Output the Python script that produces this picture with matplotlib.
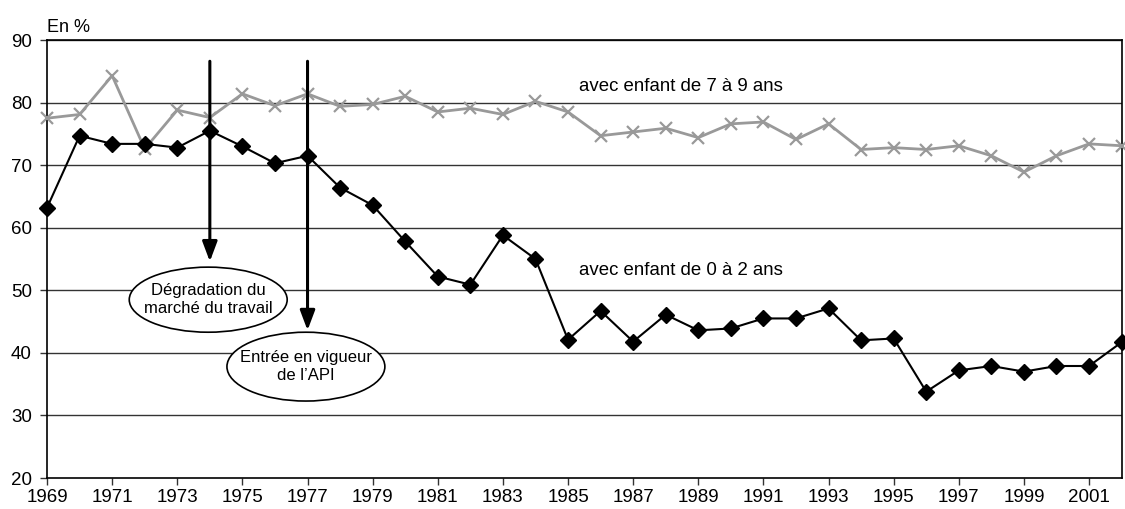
import matplotlib
matplotlib.use("Agg")
import matplotlib.pyplot as plt
from matplotlib.patches import Ellipse

plt.rcParams["font.family"] = ["Liberation Sans", "DejaVu Sans"]

years = list(range(1969, 2003))
# taux d'activité des mères, en %
enfant_0_2 = [63.2, 74.7, 73.4, 73.4, 72.8, 75.5, 73.0, 70.3, 71.5, 66.4,
              63.6, 57.8, 52.2, 50.9, 58.8, 55.0, 42.1, 46.7, 41.8, 46.1,
              43.6, 43.9, 45.5, 45.5, 47.1, 42.0, 42.3, 33.8, 37.2, 37.9,
              37.0, 37.9, 37.9, 41.7]
enfant_7_9 = [77.5, 78.1, 84.3, 72.6, 78.8, 77.6, 81.4, 79.5, 81.4, 79.4,
              79.7, 81.0, 78.5, 79.1, 78.1, 80.2, 78.5, 74.7, 75.3, 75.9,
              74.4, 76.6, 76.9, 74.1, 76.6, 72.5, 72.8, 72.5, 73.1, 71.5,
              68.9, 71.5, 73.4, 73.1]
xticks = list(range(1969, 2003, 2))
yticks = list(range(20, 91, 10))

events = [
    # (year, arrow top, arrow tip, ellipse centre y, ellipse height, label)
    (1974, 86.6, 54.6, 48.5, 10.4, "Dégradation du\nmarché du travail"),
    (1977, 86.6, 43.6, 37.8, 11.0, "Entrée en vigueur\nde l’API"),
]

fig = plt.figure(figsize=(11.25, 5.09), dpi=100)
ax = fig.add_axes([0.0418, 0.0609, 0.9552, 0.8605])

for y in yticks[1:]:
    ax.axhline(y, color="#333333", lw=1.0, zorder=1)

ax.plot(years, enfant_7_9, color="#999999", lw=2, marker="x", ms=9, mew=1.6,
        zorder=3, clip_on=False)
ax.plot(years, enfant_0_2, color="black", lw=1.5, marker="D", ms=8.5,
        zorder=4, clip_on=False)

for yr, top, tip, ey, eh, label in events:
    ax.annotate("", xy=(yr, tip), xytext=(yr, top),
                arrowprops=dict(arrowstyle="-|>,head_width=0.45,head_length=1.2",
                                color="black", lw=2.2, shrinkA=0, shrinkB=0),
                zorder=5)
    ax.add_patch(Ellipse((yr - 0.05, ey), 4.85, eh, facecolor="white",
                         edgecolor="black", lw=1.2, zorder=6))
    ax.text(yr - 0.05, ey, label, ha="center", va="center", fontsize=12,
            linespacing=1.2, zorder=7)

ax.text(1985.35, 82.6, "avec enfant de 7 à 9 ans", fontsize=13.4, va="center")
ax.text(1985.35, 53.2, "avec enfant de 0 à 2 ans", fontsize=13.4, va="center")

ax.set_xlim(1969, 2002)
ax.set_ylim(20, 90)
ax.set_xticks(xticks)
ax.set_yticks(yticks)
ax.tick_params(labelsize=13.5, length=5, width=1, color="#333333")
ax.tick_params(axis="x", pad=3)
ax.tick_params(axis="y", pad=6)
for s in ax.spines.values():
    s.set_linewidth(1.2)
ax.text(0.0, 1.018, "En %", transform=ax.transAxes, fontsize=13, va="baseline")

fig.savefig("out.png", dpi=100)
